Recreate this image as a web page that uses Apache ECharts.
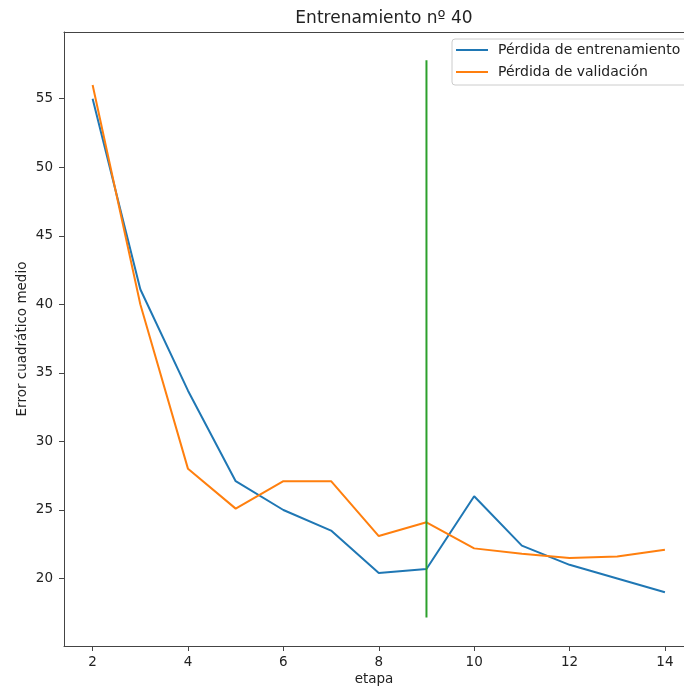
<!DOCTYPE html>
<html>
<head>
<meta charset="utf-8">
<script src="https://cdn.jsdelivr.net/npm/echarts@6/dist/echarts.min.js"></script>
<style>
html, body { margin: 0; padding: 0; background: #fff; }
#chart { width: 684px; height: 688px; }
</style>
</head>
<body>
<div id="chart"></div>
<script>
// datos
var etapas = [2, 3, 4, 5, 6, 7, 8, 9, 10, 11, 12, 13, 14];
var perdidaEntrenamiento = [55.0, 41.1, 33.7, 27.1, 25.0, 23.5, 20.4, 20.7, 26.0, 22.4, 21.0, 20.0, 19.0];
var perdidaValidacion = [56.0, 40.0, 28.0, 25.1, 27.1, 27.1, 23.1, 24.1, 22.2, 21.8, 21.5, 21.6, 22.1];
var lineaParada = [[9, 17.15], [9, 57.8]];
var xTicks = [2, 4, 6, 8, 10, 12, 14];
var yTicks = [20, 25, 30, 35, 40, 45, 50, 55];

var font = 'DejaVu Sans';
var toPairs = (ys) => etapas.map((x, i) => [x, ys[i]]);

var myChart = echarts.init(document.getElementById('chart'), null, { renderer: 'canvas' });
// el borde derecho del grafico queda fuera de la imagen, por eso max 14.4 y sin linea derecha
var option = {
  animation: false,
  backgroundColor: '#fff',
  textStyle: { fontFamily: font },
  title: {
    text: 'Entrenamiento nº 40',
    left: 379, top: 5, textAlign: 'center',
    textStyle: { fontFamily: font, fontSize: 17, fontWeight: 'normal', color: '#222' }
  },
  legend: {
    left: 452, top: 39, orient: 'vertical',
    icon: 'rect', itemWidth: 32, itemHeight: 2, itemGap: 8,
    padding: [4, 12, 6, 4],
    borderColor: '#ccc', borderWidth: 1, borderRadius: 3,
    backgroundColor: 'rgba(255,255,255,0.85)',
    textStyle: { fontFamily: font, fontSize: 14, color: '#222', padding: [0, 0, 0, 5] },
    data: ['Pérdida de entrenamiento', 'Pérdida de validación']
  },
  grid: {
    left: 64, top: 32, right: 0, bottom: 42,
    show: false, outerBoundsMode: 'none', containLabel: false
  },
  xAxis: [{
    type: 'value', min: 1.4, max: 14.4,
    name: 'etapa', nameLocation: 'middle', nameGap: 26, nameMoveOverlap: false,
    nameTextStyle: { fontFamily: font, fontSize: 13.5, color: '#222' },
    axisLine: { lineStyle: { color: '#444' } },
    axisTick: { show: true, length: 5, lineStyle: { color: '#444' }, customValues: xTicks },
    axisLabel: { fontFamily: font, fontSize: 13.5, color: '#222', margin: 9, customValues: xTicks },
    splitLine: { show: false }
  }, {
    type: 'value', min: 1.4, max: 14.4, position: 'top',
    axisLine: { show: true, lineStyle: { color: '#444' } },
    axisTick: { show: false }, axisLabel: { show: false }, splitLine: { show: false }
  }],
  yAxis: {
    type: 'value', min: 15.08, max: 59.86,
    name: 'Error cuadrático medio', nameLocation: 'middle', nameGap: 35, nameRotate: 90,
    nameMoveOverlap: false,
    nameTextStyle: { fontFamily: font, fontSize: 13.5, color: '#222' },
    axisLine: { show: true, lineStyle: { color: '#444' } },
    axisTick: { show: true, length: 5, lineStyle: { color: '#444' }, customValues: yTicks },
    axisLabel: { fontFamily: font, fontSize: 13.5, color: '#222', margin: 11, customValues: yTicks },
    splitLine: { show: false }
  },
  series: [
    {
      name: 'Pérdida de entrenamiento', type: 'line', data: toPairs(perdidaEntrenamiento),
      symbol: 'none', lineStyle: { color: '#1f77b4', width: 2 }, itemStyle: { color: '#1f77b4' }, z: 3
    },
    {
      name: 'Pérdida de validación', type: 'line', data: toPairs(perdidaValidacion),
      symbol: 'none', lineStyle: { color: '#ff7f0e', width: 2 }, itemStyle: { color: '#ff7f0e' }, z: 4
    },
    {
      name: 'parada', type: 'line', data: lineaParada,
      symbol: 'none', lineStyle: { color: '#2ca02c', width: 2 }, z: 5
    }
  ]
};
myChart.setOption(option);
</script>
</body>
</html>
